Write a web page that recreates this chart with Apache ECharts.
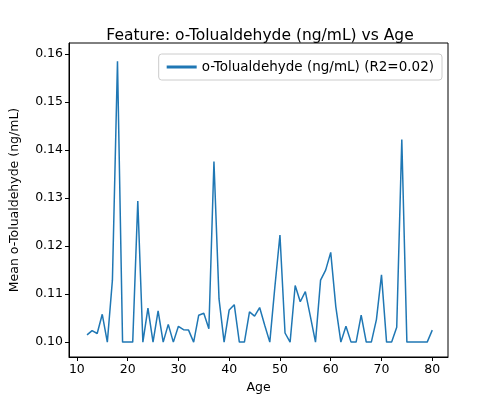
<!DOCTYPE html>
<html><head><meta charset="utf-8">
<script src="https://cdn.jsdelivr.net/npm/echarts@6/dist/echarts.min.js"></script>
<style>html,body{margin:0;background:#fff}#c{width:500px;height:400px}</style>
</head><body><div id="c"></div>
<script>
// 年龄与均值
const ages = [];
for (let a = 12; a <= 80; a++) ages.push(a);
const values = [
  0.1015, 0.1024, 0.1018, 0.1058, 0.1000, 0.1129, 0.1585, 0.1000, 0.1000, 0.1000,
  0.1294, 0.1000, 0.1071, 0.1000, 0.1065, 0.1000, 0.1037, 0.1000, 0.1033, 0.1026,
  0.1025, 0.1000, 0.1056, 0.1060, 0.1028, 0.1376, 0.1090, 0.1000, 0.1067, 0.1078,
  0.1000, 0.1000, 0.1063, 0.1054, 0.1072, 0.1035, 0.1000, 0.1115, 0.1223, 0.1019,
  0.1000, 0.1118, 0.1084, 0.1105, 0.1053, 0.1000, 0.1129, 0.1150, 0.1187, 0.1074,
  0.1000, 0.1033, 0.1000, 0.1000, 0.1056, 0.1000, 0.1000, 0.1047, 0.1140, 0.1000,
  0.1000, 0.1031, 0.1422, 0.1000, 0.1000, 0.1000, 0.1000, 0.1000, 0.1025
];
const xTicks = [10, 20, 30, 40, 50, 60, 70, 80];
const yTicks = [0.10, 0.11, 0.12, 0.13, 0.14, 0.15, 0.16];
const seriesName = 'o-Tolualdehyde (ng/mL) (R2=0.02)';

const chart = echarts.init(document.getElementById('c'));
const font = 'DejaVu Sans';
chart.setOption({
  animation: false,
  title: {
    text: 'Feature: o-Tolualdehyde (ng/mL) vs Age', left: 255, top: 23, textAlign: 'center',
    textStyle: { fontFamily: font, fontSize: 15.5, fontWeight: 'normal', color: '#000' }
  },
  legend: {
    right: 58, top: 54, data: [seriesName], icon: 'path://M0,0H30V3H0Z',
    itemWidth: 30, itemHeight: 3, itemGap: 10, borderColor: '#ccc', borderWidth: 1, borderRadius: 3,
    padding: [6, 8], textStyle: { fontFamily: font, fontSize: 13.5, color: '#000' }
  },
  grid: { left: 62, right: 52, top: 43, bottom: 43, show: true, borderColor: '#000', borderWidth: 1 },
  xAxis: {
    type: 'value', min: 8.45, max: 83.1, name: 'Age', nameLocation: 'middle', nameGap: 22,
    nameTextStyle: { fontFamily: font, fontSize: 12.5, color: '#000' },
    axisLine: { show: true, lineStyle: { color: '#000' } },
    axisTick: { show: true, customValues: xTicks, length: 4, lineStyle: { color: '#000' } },
    axisLabel: { customValues: xTicks, fontFamily: font, fontSize: 12.5, color: '#000', margin: 6 },
    splitLine: { show: false }
  },
  yAxis: {
    type: 'value', min: 0.0969, max: 0.1623, name: 'Mean o-Tolualdehyde (ng/mL)',
    nameLocation: 'middle', nameGap: 48,
    nameTextStyle: { fontFamily: font, fontSize: 12.5, color: '#000' },
    axisLine: { show: true, lineStyle: { color: '#000' } },
    axisTick: { show: true, customValues: yTicks, length: 4, lineStyle: { color: '#000' } },
    axisLabel: { customValues: yTicks, fontFamily: font, fontSize: 12.5, color: '#000', margin: 6,
      formatter: v => v.toFixed(2) },
    splitLine: { show: false }
  },
  series: [{
    name: seriesName, type: 'line', showSymbol: false,
    data: ages.map((a, i) => [a, values[i]]),
    lineStyle: { color: '#1f77b4', width: 1.5 }, itemStyle: { color: '#1f77b4' }
  }]
});
</script></body></html>
